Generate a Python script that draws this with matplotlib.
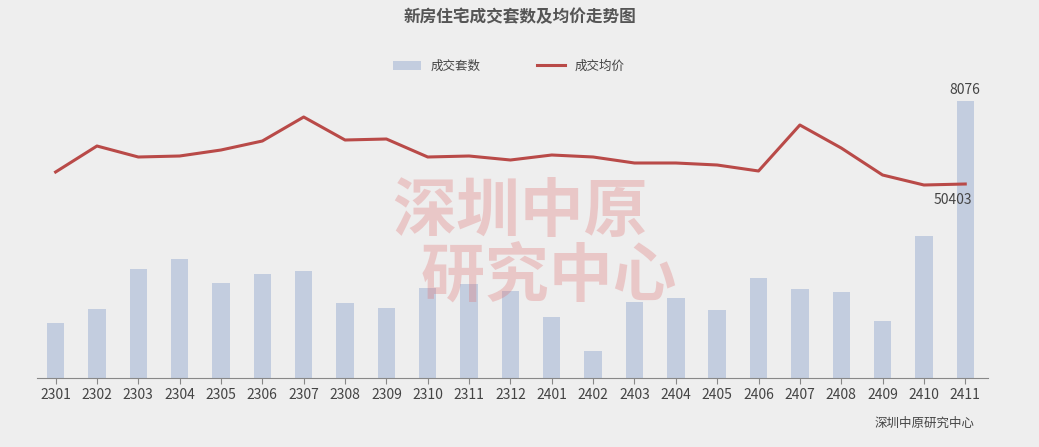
import numpy as np
import matplotlib.pyplot as plt

plt.rcParams['font.family'] = ['Noto Sans CJK SC', 'DejaVu Sans']

months = ['2301', '2302', '2303', '2304', '2305', '2306', '2307', '2308', '2309', '2310', '2311', '2312',
          '2401', '2402', '2403', '2404', '2405', '2406', '2407', '2408', '2409', '2410', '2411']
units = [1603, 2011, 3178, 3469, 2769, 3032, 3119, 2186, 2040, 2623, 2740, 2536,
         1778, 787, 2215, 2332, 1982, 2915, 2594, 2507, 1661, 4140, 8076]
price = [51603, 54203, 53103, 53203, 53803, 54703, 57103, 54803, 54903, 53103, 53203, 52803,
         53303, 53103, 52503, 52503, 52303, 51703, 56303, 54003, 51303, 50303, 50403]

bg = '#eeeeee'
W, H = 1039, 447
fig = plt.figure(figsize=(W / 100, H / 100), dpi=100, facecolor=bg)
ax = fig.add_axes([37 / W, (H - 378) / H, 951 / W, 288 / H], facecolor=bg)
x = np.arange(len(months))
ax.bar(x, units, width=0.42, color='#c3cddf', label='成交套数', zorder=2)
ax.set_ylim(0, 8397)
ax.set_xlim(-0.45, len(months) - 0.45)
ax.set_xticks(x)
ax.set_xticklabels(months, fontsize=10, color='#444444')
ax.set_yticks([])
for s in ['top', 'right', 'left']:
    ax.spines[s].set_visible(False)
ax.spines['bottom'].set_color('#888888')
ax.tick_params(axis='x', length=4, color='#888888')
ax.text(x[-1], units[-1] + 120, f'{units[-1]}', ha='center', va='bottom', fontsize=10, color='#444444')

ax2 = ax.twinx()
ax2.plot(x, price, color='#b94a48', lw=2.2, label='成交均价', zorder=3)
ax2.set_ylim(31003, 59803)
ax2.set_yticks([])
for s in ['top', 'right', 'left', 'bottom']:
    ax2.spines[s].set_visible(False)
ax2.text(x[-1] - 0.3, price[-1] - 900, f'{price[-1]}', ha='center', va='top', fontsize=10, color='#444444')

fig.text(0.5, (H - 17) / H, '新房住宅成交套数及均价走势图', ha='center', va='center',
         fontsize=12, fontweight='bold', color='#555555')
h1, l1 = ax.get_legend_handles_labels()
h2, l2 = ax2.get_legend_handles_labels()
fig.legend(h1 + h2, l1 + l2, loc='center', bbox_to_anchor=(0.49, (H - 66) / H), ncol=2,
           frameon=False, fontsize=9, handlelength=2.2, columnspacing=4.5, labelcolor='#444444')
fig.text(0.5, (H - 245) / H, '深圳中原\n    研究中心', ha='center', va='center', fontsize=46,
         fontweight='bold', style='italic', color='#e07070', alpha=0.3, linespacing=1.0)
fig.text(975 / W, (H - 423) / H, '深圳中原研究中心', ha='right', va='center', fontsize=9, color='#444444')

fig.savefig('out.png', dpi=100, facecolor=bg)
